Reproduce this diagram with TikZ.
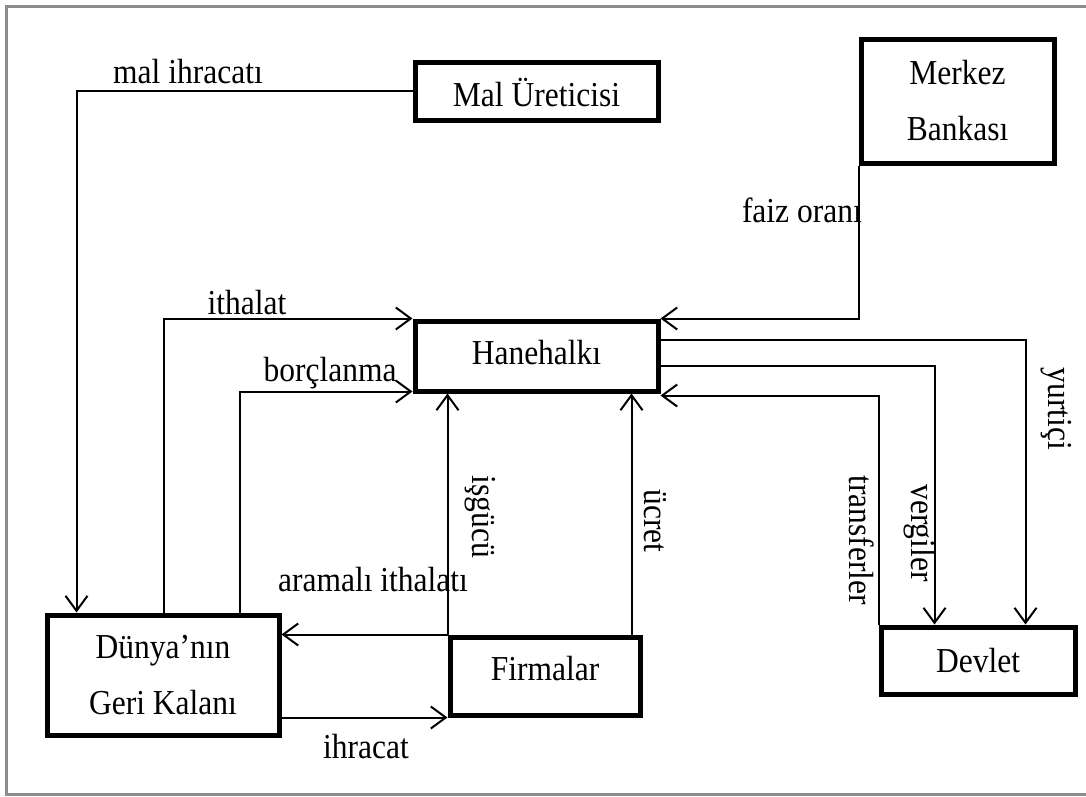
\documentclass[tikz,border=0pt]{standalone}
\usepackage{fontspec}
\setmainfont{Liberation Serif}[FakeStretch=0.9]
\usetikzlibrary{arrows.meta}
\begin{document}
\begin{tikzpicture}[x=1pt,y=-1pt,
  box/.style={draw, line width=5pt, inner sep=0pt, align=center, font=\fontsize{35}{56}\selectfont},
  lbl/.style={inner sep=0pt, font=\fontsize{35}{40}\selectfont},
  arr/.style={line width=2pt, -{Straight Barb[length=15pt,width=22pt]}},
  frame/.style={line width=3pt, draw=black!45}]
\useasboundingbox (0,0) rectangle (1086,796);
\draw[frame] (1092,6) -- (6,6) -- (6,794.5) -- (1092,794.5);
% boxes
\node[box, minimum width=243pt, minimum height=58pt, text height=32pt] (mal) at (536.5,91) {Mal Üreticisi};
\node[box, minimum width=193pt, minimum height=124pt] (merkez) at (957.5,101) {Merkez\\Bankası};
\node[box, minimum width=243pt, minimum height=70pt, text depth=8pt] (hane) at (536.5,356) {Hanehalkı};
\node[box, minimum width=232pt, minimum height=120pt] (dun) at (163,675) {Dünya’nın\\Geri Kalanı};
\node[box, minimum width=190pt, minimum height=78pt, text depth=16pt] (firma) at (545,676) {Firmalar};
\node[box, minimum width=194pt, minimum height=67pt] (devlet) at (978,660.5) {Devlet};
% connectors
\draw[arr] (mal.west) -| ([xshift=32pt]dun.north west);
\draw[arr] ([xshift=119pt]dun.north west) |- (hane.north west);
\draw[arr] ([xshift=195pt]dun.north west) |- ([yshift=2pt]hane.south west);
\draw[arr] (merkez.south west) |- (hane.north east);
\draw[arr] ([yshift=-21pt]hane.north east) -| ([xshift=147pt]devlet.north west);
\draw[arr] ([yshift=-47pt]hane.north east) -| ([xshift=56pt]devlet.north west);
\draw[arr] (devlet.north west) |- ([yshift=-2pt]hane.south east);
\draw[arr] (firma.north west) -- (firma.north west |- hane.south);
\draw[arr] ([xshift=-11pt]firma.north east) -- ([xshift=-11pt]firma.north east |- hane.south);
\draw[arr] (firma.north west) -- (firma.north west -| dun.east);
\draw[arr] (dun.east |- firma.south west) -- (firma.south west);
% labels
\node[lbl] (lmal) at (188,72) {mal ihracatı};
\node[lbl, anchor=east] (lfaiz) at (862,210) {faiz oranı};
\node[lbl] (lith) at (247,303) {ithalat};
\node[lbl] (lborc) at (330,373) {borçlanma};
\node[lbl] (lara) at (373,580) {aramalı ithalatı};
\node[lbl] (lihr) at (366,747) {ihracat};
\node[lbl, rotate=-90] (lisg) at (480,517) {işgücü};
\node[lbl, rotate=-90] (lucr) at (655,521) {ücret};
\node[lbl, rotate=-90] (ltra) at (862,540) {transferler};
\node[lbl, rotate=-90] (lver) at (920,533) {vergiler};
\node[lbl, rotate=-90] (lyur) at (1056,409) {yurtiçi};
\end{tikzpicture}
\end{document}
